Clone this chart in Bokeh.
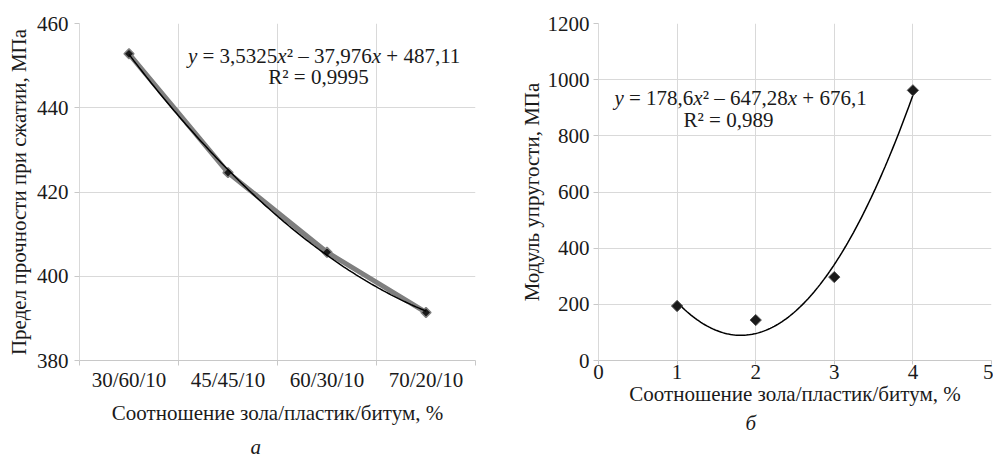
import numpy as np
from bokeh.plotting import figure
from bokeh.models import FixedTicker, Label, Title, Range1d
from bokeh.layouts import row
from bokeh.embed import file_html
from bokeh.resources import INLINE

# ---------------- data ----------------
left_categories = ["30/60/10", "45/45/10", "60/30/10", "70/20/10"]
left_positions = [1, 2, 3, 4]
left_strength = [452.8, 424.6, 405.7, 391.4]
left_trend_coef = [3.5325, -37.976, 487.11]
left_y_ticks = [380, 400, 420, 440, 460]
left_y_label = "Предел прочности при сжатии, МПа"

right_x = [1, 2, 3, 4]
right_modulus = [194, 144, 297, 962]
right_trend_coef = [178.6, -647.28, 676.1]
right_x_ticks = [0, 1, 2, 3, 4, 5]
right_y_ticks = [0, 200, 400, 600, 800, 1000, 1200]
right_y_label = "Модуль упругости, МПа"

x_label = "Соотношение зола/пластик/битум, %"
left_caption = "а"
right_caption = "б"

# equation pieces: (text, italic, gap before in em)
left_eq1 = [("y", True, 0), ("= 3,5325", False, 0.25), ("x", True, 0),
            ("² – 37,976", False, 0), ("x", True, 0), ("+ 487,11", False, 0.25)]
left_eq2 = [("R² = 0,9995", False, 0)]
right_eq1 = [("y", True, 0), ("= 178,6", False, 0.25), ("x", True, 0),
             ("² – 647,28", False, 0), ("x", True, 0), ("+ 676,1", False, 0.25)]
right_eq2 = [("R² = 0,989", False, 0)]

# ---------------- styling ----------------
FONT = "Liberation Serif"
FS = 21
TXT = "#1a1a1a"
GRID = "#d9d9d9"
AXIS = "#c8c8c8"

W_REG = {c: 0.5 for c in "0123456789"}
W_REG.update({",": 0.25, " ": 0.25, "=": 0.564, "–": 0.5, "+": 0.564, "²": 0.3, "R": 0.667})
W_IT = {"x": 0.444, "y": 0.444}


def text_w(s, italic):
    tbl = W_IT if italic else W_REG
    return sum(tbl.get(c, 0.5) for c in s) * FS


def add_equation(p, pieces, x, y):
    widths = [text_w(t, it) + g * FS for t, it, g in pieces]
    total = sum(widths)
    off = -total / 2
    for (t, it, g), w in zip(pieces, widths):
        off += g * FS
        p.add_layout(Label(x=x, y=y, x_offset=off, text=t, text_align="left",
                           text_baseline="middle", text_font=FONT,
                           text_font_size=f"{FS}px", text_color=TXT,
                           text_font_style="italic" if it else "normal"))
        off += w - g * FS


def style(p):
    p.outline_line_color = None
    p.background_fill_color = "white"
    p.border_fill_color = "white"
    for ax in (p.xaxis[0], p.yaxis[0]):
        ax.major_label_text_font = FONT
        ax.major_label_text_font_size = f"{FS}px"
        ax.major_label_text_color = TXT
        ax.axis_label_text_font = FONT
        ax.axis_label_text_font_size = f"{FS}px"
        ax.axis_label_text_font_style = "normal"
        ax.axis_label_text_color = TXT
        ax.axis_line_color = AXIS
        ax.major_tick_line_color = AXIS
        ax.minor_tick_line_color = AXIS
        ax.major_tick_in = 0
        ax.minor_tick_in = 0
        ax.minor_tick_out = 0
        ax.major_tick_out = 5
    p.yaxis[0].axis_line_color = GRID
    p.xgrid.grid_line_color = GRID
    p.ygrid.grid_line_color = GRID


def caption(text, offset, standoff):
    t = Title(text=text, align="left", offset=offset, text_font=FONT,
              text_font_size=f"{FS}px", text_font_style="italic", text_color=TXT)
    if "standoff" in Title.properties():
        t.standoff = standoff
    return t


# ---------------- left chart ----------------
p1 = figure(width=510, height=463, x_range=Range1d(0.5, 4.5), y_range=Range1d(380, 460),
            output_backend="svg", toolbar_location=None,
            min_border_left=79, min_border_right=35, min_border_top=23, min_border_bottom=102)
style(p1)
bounds = [0.5, 1.5, 2.5, 3.5, 4.5]
p1.xaxis.ticker = FixedTicker(ticks=left_positions, minor_ticks=bounds)
p1.xaxis.major_label_overrides = {k: v for k, v in zip(left_positions, left_categories)}
p1.xaxis.major_tick_out = 0
p1.xaxis.minor_tick_out = 5
p1.xaxis.major_label_standoff = 2
p1.xgrid.ticker = FixedTicker(ticks=bounds)
p1.yaxis.ticker = FixedTicker(ticks=left_y_ticks)
p1.yaxis.major_label_standoff = 6
p1.yaxis.axis_label = left_y_label
p1.yaxis.axis_label_standoff = 3
p1.xaxis.axis_label = x_label
p1.xaxis.axis_label_standoff = 6

xs1 = np.linspace(left_positions[0], left_positions[-1], 120)
p1.line(left_positions, left_strength, line_color="#7f7f7f", line_width=5)
p1.scatter(left_positions, left_strength, marker="square", angle=np.pi / 4, size=7,
           fill_color="#1a1a1a", line_color="#7f7f7f", line_width=1.5)
p1.line(xs1, np.polyval(left_trend_coef, xs1), line_color="black", line_width=1.5)

add_equation(p1, left_eq1, 2.975, 452.4)
add_equation(p1, left_eq2, 2.914, 447.2)

p1.add_layout(caption(left_caption, 171, 10), "below")

# ---------------- right chart ----------------
p2 = figure(width=483, height=463, x_range=Range1d(0, 5), y_range=Range1d(0, 1200),
            output_backend="svg", toolbar_location=None,
            min_border_left=88, min_border_right=2, min_border_top=23, min_border_bottom=93)
style(p2)
p2.xaxis.ticker = FixedTicker(ticks=right_x_ticks)
p2.xgrid.ticker = FixedTicker(ticks=right_x_ticks)
p2.yaxis.ticker = FixedTicker(ticks=right_y_ticks)
p2.xaxis.major_tick_out = 4
p2.xaxis.major_label_standoff = 0
p2.yaxis.major_label_standoff = 4
p2.yaxis.axis_label = right_y_label
p2.yaxis.axis_label_standoff = 1
p2.xaxis.axis_label = x_label
p2.xaxis.axis_label_standoff = 0

xs2 = np.linspace(right_x[0], right_x[-1], 120)
p2.line(xs2, np.polyval(right_trend_coef, xs2), line_color="black", line_width=1.5)
p2.scatter(right_x, right_modulus, marker="square", angle=np.pi / 4, size=8,
           fill_color="#1a1a1a", line_color="#555555", line_width=1)

add_equation(p2, right_eq1, 1.807, 934)
add_equation(p2, right_eq2, 1.654, 855)

p2.add_layout(caption(right_caption, 147, 0), "below")

layout = row(p1, p2)
open("out.html", "w").write(file_html(layout, INLINE))
